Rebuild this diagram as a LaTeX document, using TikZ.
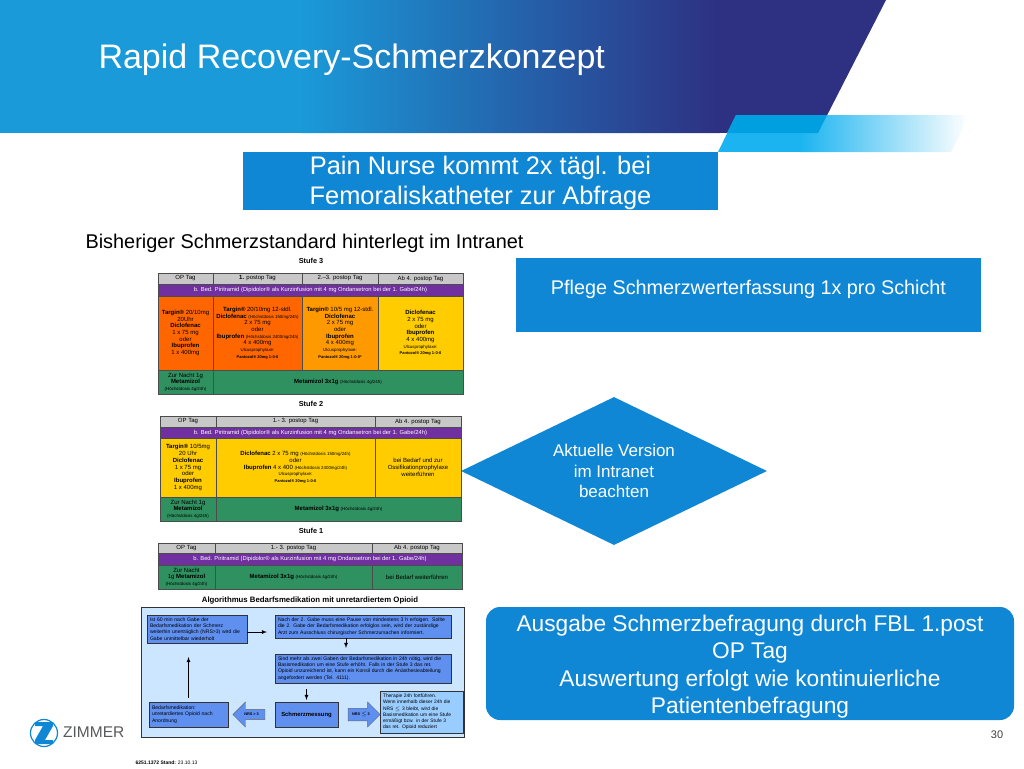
\documentclass[tikz,border=0pt]{standalone}
\usepackage{fontspec}
\setmainfont{Liberation Sans}
\usetikzlibrary{shapes.geometric,shapes.arrows}
\definecolor{zblue}{HTML}{1A9AD8}
\definecolor{znavy}{HTML}{2E3082}
\definecolor{zbar}{HTML}{1BB4F0}
\definecolor{zover}{HTML}{00A0E0}
\definecolor{zbox}{HTML}{0F87D5}
\definecolor{tgray}{HTML}{C8C8C8}
\definecolor{tpurple}{HTML}{7030A0}
\definecolor{torange}{HTML}{FF6600}
\definecolor{tamber}{HTML}{FF9900}
\definecolor{tyellow}{HTML}{FFCC00}
\definecolor{tgreen}{HTML}{2F9060}
\definecolor{apanel}{HTML}{CCE6FF}
\definecolor{abox}{HTML}{5F90F0}
\definecolor{alight}{HTML}{99CCFF}
\definecolor{zgray}{HTML}{58595B}
\newcommand{\smalldose}[1]{{\fontsize{4.4}{5}\selectfont #1}}
\newcommand{\ulcus}{{\fontsize{4.4}{5.5}\selectfont Ulcusprophylaxe:}}
\newcommand{\pantozol}[1]{{\bfseries\fontsize{4}{5.5}\selectfont Pantozol® 20mg 1-0-0#1}}
\tikzset{
  txt/.style={font=\fontsize{#1}{#1}\selectfont},
  bluebox/.style={fill=zbox,text=white,inner sep=0pt,align=center},
  cell/.style={draw=black!70,line width=0.5pt,inner sep=0pt,outer sep=0pt,align=center,
    font=\fontsize{6}{6.7}\selectfont},
  headcell/.style={cell,fill=tgray,font=\fontsize{6}{7}\selectfont},
  purplecell/.style={cell,fill=tpurple,text=white,font=\fontsize{5.8}{7}\selectfont},
  greencell/.style={cell,fill=tgreen},
  algbox/.style={draw=black!80,line width=0.7pt,fill=abox,inner sep=0pt,inner xsep=3pt,outer sep=0pt,
    align=left,font=\fontsize{5.1}{6.3}\selectfont},
  blockarrow/.style={single arrow,draw=black!60,line width=0.4pt,fill=abox,inner sep=0.5pt,
    single arrow head extend=3pt,minimum height=32pt,minimum width=25pt,
    font=\bfseries\fontsize{3.8}{4}\selectfont},
  algflow/.style={line width=0.8pt,-latex},
}
\begin{document}
\begin{tikzpicture}[x=1pt,y=-1pt,line join=miter]
  \useasboundingbox (0,0) rectangle (1024,768);
  % banner
  \begin{scope}
    \clip (0,0) -- (886,0) -- (818,133) -- (0,133) -- cycle;
    \fill[zblue] (0,0) rectangle (301,133);
    \shade[left color=zblue,right color=znavy] (300,0) rectangle (720,133);
    \fill[znavy] (719,0) rectangle (900,133);
  \end{scope}
  \begin{scope}
    \clip (718,152) -- (736,115) -- (970,115) -- (951,152) -- cycle;
    \fill[zbar] (717,115) rectangle (801,152);
    \shade[left color=zbar,right color=white] (800,115) rectangle (968,152);
  \end{scope}
  \fill[zover] (727,133) -- (736,115) -- (827,115) -- (818,133) -- cycle;
  \node[anchor=west,text=white,txt=34] (title) at (95,60) {Rapid Recovery-Schmerzkonzept};
  % boxes on the right
  \node[bluebox,minimum width=475pt,minimum height=58pt] (pain) at (480.5,181) {};
  \node[text=white,inner sep=0pt,align=center,font=\fontsize{25.4}{30}\selectfont] (paintext) at (pain.center)
    [yshift=-2pt] {Pain Nurse kommt 2x tägl. bei\\Femoraliskatheter zur Abfrage};
  \node[anchor=west,txt=19.9] (standard) at (82,243) {Bisheriger Schmerzstandard hinterlegt im Intranet};
  \node[bluebox,minimum width=465pt,minimum height=74pt,font=\fontsize{19.8}{20}\selectfont] (pflege) at (748.5,295)
    {Pflege Schmerzwerterfassung 1x pro Schicht\\[-4pt]};
  \node[diamond,fill=zbox,text=white,inner sep=0pt,aspect=2.07,minimum width=306pt,minimum height=148pt,
    align=center,font=\fontsize{17}{20.5}\selectfont] (version) at (614,471)
    {Aktuelle Version\\im Intranet\\beachten};
  \node[bluebox,rounded corners=14pt,minimum width=528pt,minimum height=113pt] (ausgabe) at (750,663.5) {};
  \node[text=white,inner sep=0pt,align=center,font=\fontsize{22.7}{27.5}\selectfont] (ausgabetext) at (ausgabe.center)
    [yshift=-3pt] {Ausgabe Schmerzbefragung durch FBL 1.post\\OP Tag\\Auswertung erfolgt wie kontinuierliche\\Patientenbefragung};
  % Stufe 3
  \node[font=\bfseries\fontsize{7.3}{8}\selectfont] (s3title) at (311,261) {Stufe 3};
  \node[headcell,minimum width=55pt,minimum height=11pt] (s3a) at (185.5,278.5) {OP Tag};
  \node[headcell,minimum width=89pt,minimum height=11pt] (s3b) at (257.5,278.5) {\textbf{1.} postop Tag};
  \node[headcell,minimum width=76pt,minimum height=11pt] (s3c) at (340,278.5) {2.–3. postop Tag};
  \node[headcell,minimum width=85pt,minimum height=11pt] (s3d) at (420.5,278.5) {Ab 4. postop Tag};
  \node[purplecell,minimum width=305pt,minimum height=12pt] (s3p) at (310.5,290) {b. Bed. Piritramid (Dipidolor® als Kurzinfusion mit 4 mg Ondansetron bei der 1. Gabe/24h)};
  \node[cell,fill=torange,minimum width=55pt,minimum height=74pt] (s3e) at (185.5,333)
    {\textbf{Targin®} 20/10mg\\20Uhr\\\textbf{Diclofenac}\\1 x 75 mg\\oder\\\textbf{Ibuprofen}\\1 x 400mg};
  \node[cell,fill=torange,minimum width=89pt,minimum height=74pt] (s3f) at (257.5,333)
    {\textbf{Targin®} 20/10mg 12-stdl.\\\textbf{Diclofenac} \smalldose{(Höchstdosis 150mg/24h)}\\2 x 75 mg\\oder\\\textbf{Ibuprofen} \smalldose{(Höchstdosis 2400mg/24h)}\\4 x 400mg\\\ulcus\\\pantozol{}};
  \node[cell,fill=tamber,minimum width=76pt,minimum height=74pt] (s3g) at (340,333)
    {\textbf{Targin®} 10/5 mg 12-stdl.\\\textbf{Diclofenac}\\2 x 75 mg\\oder\\\textbf{Ibuprofen}\\4 x 400mg\\\ulcus\\\pantozol{*}};
  \node[cell,fill=tyellow,minimum width=85pt,minimum height=74pt] (s3h) at (420.5,333)
    {\textbf{Diclofenac}\\2 x 75 mg\\oder\\\textbf{Ibuprofen}\\4 x 400mg\\\ulcus\\\pantozol{}};
  \node[greencell,minimum width=55pt,minimum height=24pt] (s3i) at (185.5,382)
    {Zur Nacht 1g\\\textbf{Metamizol}\\\smalldose{(Höchstdosis 4g/24h)}};
  \node[greencell,minimum width=250pt,minimum height=24pt] (s3j) at (338,382)
    {\textbf{Metamizol 3x1g} \smalldose{(Höchstdosis 4g/24h)}};
  % Stufe 2
  \node[font=\bfseries\fontsize{7.3}{8}\selectfont] (s2title) at (311,404) {Stufe 2};
  \node[headcell,minimum width=56pt,minimum height=11pt] (s2a) at (188,421.5) {OP Tag};
  \node[headcell,minimum width=159pt,minimum height=11pt] (s2b) at (295.5,421.5) {1.- 3. postop Tag};
  \node[headcell,minimum width=86pt,minimum height=11pt] (s2c) at (418,421.5) {Ab 4. postop Tag};
  \node[purplecell,minimum width=301pt,minimum height=11pt] (s2p) at (310.5,432.5) {b. Bed. Piritramid (Dipidolor® als Kurzinfusion mit 4 mg Ondansetron bei der 1. Gabe/24h)};
  \node[cell,fill=tyellow,minimum width=56pt,minimum height=59pt] (s2e) at (188,467.5)
    {\textbf{Targin®} 10/5mg\\20 Uhr\\\textbf{Diclofenac}\\1 x 75 mg\\oder\\\textbf{Ibuprofen}\\1 x 400mg};
  \node[cell,fill=tyellow,minimum width=159pt,minimum height=59pt] (s2f) at (295.5,467.5)
    {\textbf{Diclofenac} 2 x 75 mg \smalldose{(Höchstdosis 150mg/24h)}\\oder\\\textbf{Ibuprofen} 4 x 400 \smalldose{(Höchstdosis 2400mg/24h)}\\\ulcus\\\pantozol{}};
  \node[cell,fill=tyellow,minimum width=86pt,minimum height=59pt] (s2g) at (418,467.5)
    {bei Bedarf und zur\\Ossifikationprophylaxe\\weiterführen};
  \node[greencell,minimum width=56pt,minimum height=24pt] (s2h) at (188,509)
    {Zur Nacht 1g\\\textbf{Metamizol}\\\smalldose{(Höchstdosis 4g/24h)}};
  \node[greencell,minimum width=245pt,minimum height=24pt] (s2i) at (338.5,509)
    {\textbf{Metamizol 3x1g} \smalldose{(Höchstdosis 4g/24h)}};
  % Stufe 1
  \node[font=\bfseries\fontsize{7.3}{8}\selectfont] (s1title) at (311,531) {Stufe 1};
  \node[headcell,minimum width=57pt,minimum height=10pt] (s1a) at (186.5,548) {OP Tag};
  \node[headcell,minimum width=157pt,minimum height=10pt] (s1b) at (293.5,548) {1.- 3. postop Tag};
  \node[headcell,minimum width=90pt,minimum height=10pt] (s1c) at (417,548) {Ab 4. postop Tag};
  \node[purplecell,minimum width=304pt,minimum height=12pt] (s1p) at (310,559) {b. Bed. Piritramid (Dipidolor® als Kurzinfusion mit 4 mg Ondansetron bei der 1. Gabe/24h)};
  \node[greencell,minimum width=57pt,minimum height=24pt] (s1e) at (186.5,577)
    {Zur Nacht\\1g \textbf{Metamizol}\\\smalldose{(Höchstdosis 4g/24h)}};
  \node[greencell,minimum width=157pt,minimum height=24pt] (s1f) at (293.5,577)
    {\textbf{Metamizol 3x1g} \smalldose{(Höchstdosis 4g/24h)}};
  \node[greencell,minimum width=90pt,minimum height=24pt] (s1g) at (417,577) {bei Bedarf weiterführen};
  % Algorithmus
  \node[font=\bfseries\fontsize{7.8}{9}\selectfont] (algtitle) at (310,600) {Algorithmus Bedarfsmedikation mit unretardiertem Opioid};
  \draw[black!80,line width=0.8pt,fill=apanel] (141,607) rectangle (464,737);
  \node[algbox,text width=94pt,minimum height=28pt] (gabe) at (197,629)
    {Ist 60 min nach Gabe der\\Bedarfsmedikation der Schmerz\\weiterhin unerträglich (NRS>3) wird die\\Gabe unmittelbar wiederholt};
  \node[algbox,text width=170pt,minimum height=23pt] (pause) at (363,626.5)
    {Nach der 2. Gabe muss eine Pause von mindestens 3 h erfolgen. Sollte\\die 2. Gabe der Bedarfsmedikation erfolglos sein, wird der zuständige\\Arzt zum Ausschluss chirurgischer Schmerzursachen informiert.};
  \node[algbox,text width=170pt,minimum height=29pt] (stufe) at (363,668.5)
    {Sind mehr als zwei Gaben der Bedarfsmedikation in 24h nötig, wird die\\Basismedikation um eine Stufe erhöht. Falls in der Stufe 3 das ret.\\Opioid unzureichend ist, kann ein Konsil durch die Anästhesieabteilung\\angefordert werden (Tel. 4111).};
  \node[algbox,minimum width=63pt,minimum height=25pt,inner xsep=0pt,align=center,font=\bfseries\fontsize{5.9}{8}\selectfont] (mess) at (306.5,714.5) {Schmerzmessung};
  \node[algbox,text width=73pt,minimum height=25pt] (bedarf) at (188.5,714.5)
    {Bedarfsmedikation:\\unretardiertes Opioid nach\\Anordnung};
  \node[algbox,fill=alight,text width=77pt,minimum height=42pt,font=\fontsize{4.9}{6.2}\selectfont] (therapie) at (421.5,712)
    {Therapie 24h fortführen.\\Wenn innerhalb dieser 24h die\\NRS $\leq$ 3 bleibt, wird die\\Basismedikation um eine Stufe\\ermäßigt bzw. in der Stufe 3\\das ret. Opioid reduziert};
  \node[blockarrow,shape border rotate=180] (nrsup) at (251.5,714.5) {NRS > 3};
  \node[blockarrow] (nrsdown) at (361,714.5) {NRS $\leq$ 3};
  \draw[algflow,shorten >=8pt] ([yshift=-3pt]gabe.east) -- ([yshift=-3pt]gabe.east -| pause.west);
  \draw[algflow,shorten >=6pt] ([xshift=-17pt]pause.south) -- ([xshift=-17pt]stufe.north);
  \draw[algflow,shorten <=6pt,shorten >=2pt] (mess.north |- stufe.south) -- (mess.north);
  \draw[algflow,shorten <=4pt,shorten >=14pt] (bedarf.north) -- (bedarf.north |- gabe.south);
  \node[anchor=west,font=\fontsize{5}{6}\selectfont] (stand) at (132,763) {\textbf{6251.1372 Stand:} 23.10.13};
  % logo
  \node[circle,draw=zbox,line width=1.2pt,fill=white,minimum size=27pt,inner sep=0pt] (zring) at (44,733) {};
  \fill[zbox] (35,722) -- (53,722) -- (53,726) -- (45,740) -- (53,740) -- (53,744) -- (35,744)
    -- (35,740) -- (43,726) -- (35,726) -- cycle;
  \node[anchor=west,text=zgray,inner sep=0pt,txt=15.5] (zimmer) at (63,732.5) {ZIMMER};
  \node[text=black!75,txt=11] (page) at (997,735) {30};
\end{tikzpicture}
\end{document}
